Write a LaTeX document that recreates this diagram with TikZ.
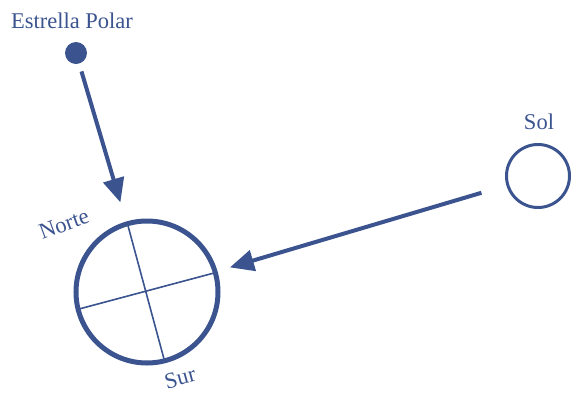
\documentclass[tikz,border=0pt]{standalone}
\usepackage{fontspec}
\setmainfont{Liberation Serif}
\usetikzlibrary{arrows.meta}
\definecolor{navy}{RGB}{59,84,144}
\begin{document}
\begin{tikzpicture}[x=1pt,y=-1pt,
  lbl/.style={text=navy,font=\fontsize{22.5}{26}\selectfont,inner sep=0pt},
  arr/.style={draw=navy,line width=4pt,-{Triangle[length=24pt,width=21pt]}},
  crossline/.style={draw=navy,line width=1.6pt}]
\useasboundingbox (0,0) rectangle (574,392);
\node[circle,fill=navy,minimum size=22pt,inner sep=0pt] (star) at (76,53) {};
\node[lbl] (polar) at (72,21) {Estrella Polar};
\node[circle,draw=navy,line width=5pt,minimum size=142pt,inner sep=0pt] (earth) at (147,292) {};
\node[circle,draw=navy,line width=3pt,minimum size=63pt,inner sep=0pt] (sun) at (538,176) {};
\node[lbl] (sol) at (539,122) {Sol};
\node[lbl,rotate=20] (norte) at (64,224) {Norte};
\node[lbl,rotate=15] (sur) at (180,378) {Sur};
\coordinate (n1) at (127,222);
\coordinate (s1) at (164,359);
\coordinate (w1) at (79,309);
\coordinate (e1) at (214,273);
\draw[crossline] (n1) -- (s1);
\draw[crossline] (w1) -- (e1);
\draw[arr,shorten <=8pt,shorten >=20pt] (star) -- (earth);
\draw[arr,shorten <=26pt,shorten >=13pt] (sun) -- (earth);
\end{tikzpicture}
\end{document}
